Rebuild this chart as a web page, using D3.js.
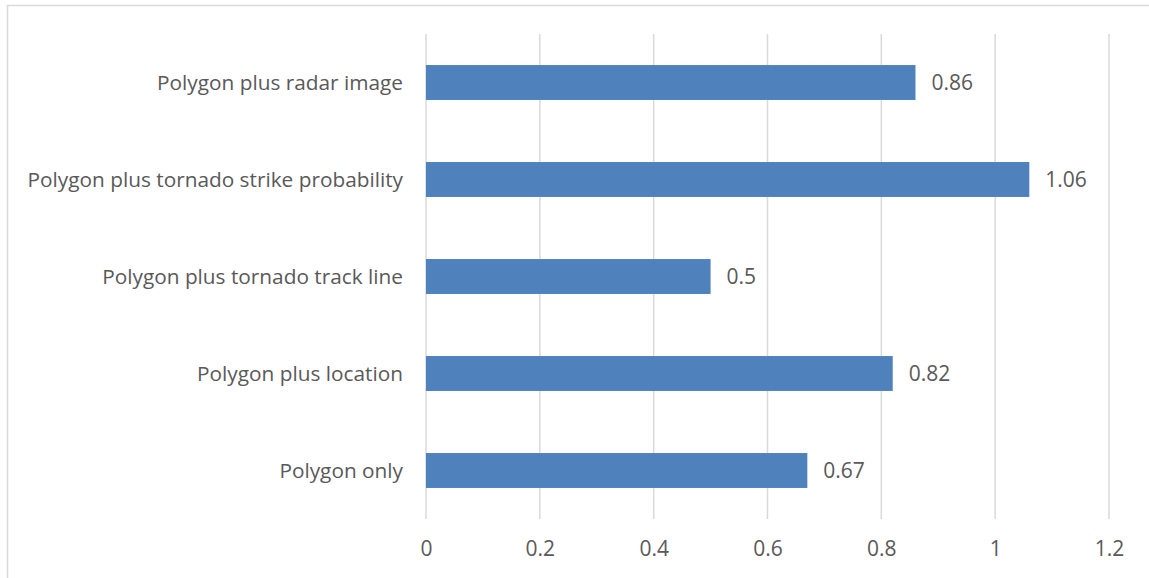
<!DOCTYPE html>
<html>
<head>
<meta charset="utf-8">
<script src="https://cdn.jsdelivr.net/npm/d3@7"></script>
<style>
  html, body { margin: 0; padding: 0; background: #fff; }
  svg { display: block; }
  text { font-family: "Open Sans", sans-serif; fill: #595959; }
</style>
</head>
<body>
<svg id="chart" width="1149" height="578"></svg>
<script>
// Category names, listed top to bottom
const categories = [
  "Polygon plus radar image",
  "Polygon plus tornado strike probability",
  "Polygon plus tornado track line",
  "Polygon plus location",
  "Polygon only"
];
// Score for each category
const values = [0.86, 1.06, 0.5, 0.82, 0.67];
// Horizontal axis ticks
const tickValues = [0, 0.2, 0.4, 0.6, 0.8, 1, 1.2];

const svg = d3.select("#chart");

// Chart area outline
svg.append("rect")
  .attr("x", 7.5).attr("y", 5.5)
  .attr("width", 1300).attr("height", 700)
  .attr("fill", "none")
  .attr("stroke", "#d9d9d9")
  .attr("stroke-width", 1.5);

const plot = { left: 426, right: 1109, top: 34, bottom: 519 };

const x = d3.scaleLinear().domain([0, 1.2]).range([plot.left, plot.right]);
const y = d3.scaleBand().domain(categories)
  .range([plot.top, plot.bottom])
  .paddingInner(0.64).paddingOuter(0.32);

// Vertical gridlines
svg.append("g").selectAll("line")
  .data(tickValues)
  .join("line")
  .attr("x1", d => x(d)).attr("x2", d => x(d))
  .attr("y1", plot.top).attr("y2", plot.bottom)
  .attr("stroke", "#d9d9d9")
  .attr("stroke-width", 1.5);

// Bars
svg.append("g").selectAll("rect")
  .data(values)
  .join("rect")
  .attr("x", x(0))
  .attr("y", (d, i) => y(categories[i]))
  .attr("width", d => x(d) - x(0))
  .attr("height", y.bandwidth())
  .attr("fill", "#4f81bd");

// Value labels
svg.append("g").selectAll("text")
  .data(values)
  .join("text")
  .attr("x", d => x(d) + 16)
  .attr("y", (d, i) => y(categories[i]) + y.bandwidth() / 2)
  .attr("dy", "0.35em")
  .style("font-size", "21px")
  .text(d => d);

// Category labels
svg.append("g").selectAll("text")
  .data(categories)
  .join("text")
  .attr("x", plot.left - 23)
  .attr("y", d => y(d) + y.bandwidth() / 2)
  .attr("dy", "0.35em")
  .attr("text-anchor", "end")
  .style("font-size", "20.8px")
  .text(d => d);

// Horizontal axis labels
const xAxis = d3.axisBottom(x)
  .tickValues(tickValues)
  .tickSize(0)
  .tickPadding(0)
  .tickFormat(d3.format("~g"));

const axisG = svg.append("g")
  .attr("transform", `translate(0, 549)`)
  .call(xAxis);
axisG.select(".domain").remove();
axisG.selectAll("text")
  .attr("y", 0)
  .attr("dy", "0.35em")
  .style("font-size", "21px")
  .style("font-family", "\"Open Sans\", sans-serif")
  .attr("fill", "#595959");
</script>
</body>
</html>
